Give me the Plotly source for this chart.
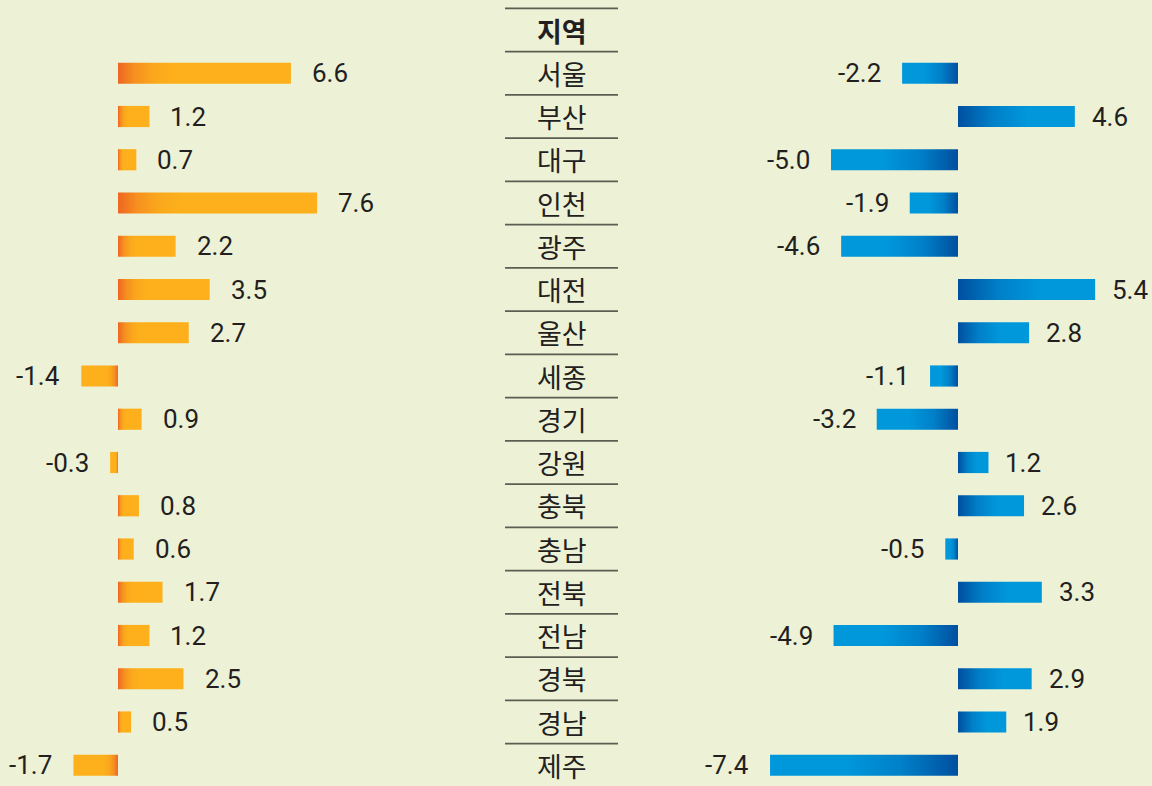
import plotly.graph_objects as go

regions = ["서울", "부산", "대구", "인천", "광주", "대전", "울산", "세종", "경기",
           "강원", "충북", "충남", "전북", "전남", "경북", "경남", "제주"]
header = "지역"
orange_values = [6.6, 1.2, 0.7, 7.6, 2.2, 3.5, 2.7, -1.4, 0.9, -0.3, 0.8, 0.6, 1.7, 1.2, 2.5, 0.5, -1.7]
blue_values = [-2.2, 4.6, -5.0, -1.9, -4.6, 5.4, 2.8, -1.1, -3.2, 1.2, 2.6, -0.5, 3.3, -4.9, 2.9, 1.9, -7.4]

BG = "#EDF1D6"
OR_SCALE = [[0, "#EE6623"], [0.3, "#F6901F"], [0.65, "#FBA81C"], [1, "#FDB01B"]]
BL_SCALE = [[0, "#004F9F"], [0.5, "#0080C8"], [1, "#0097DB"]]
OR_LIGHT, BL_LIGHT = "#FDB01B", "#0097DB"
TXT = "#231F20"
NUM_FONT = "Liberation Sans Narrow, Roboto, sans-serif"
KR_FONT = "Noto Sans CJK KR, sans-serif"
HALF = 0.245

rows = list(range(1, len(regions) + 1))

fig = go.Figure()


def add_bars(values, axis, light, scale, frac):
    rev = [[1 - p, c] for p, c in reversed(scale)]
    for i, v in zip(rows, values):
        if v > 0:
            grad = dict(type="horizontal", start=0, stop=v * frac, colorscale=scale)
        else:
            grad = dict(type="horizontal", start=v * frac, stop=0, colorscale=rev)
        fig.add_trace(go.Scatter(
            x=[0, v, v, 0, 0], y=[i - HALF, i - HALF, i + HALF, i + HALF, i - HALF],
            xaxis=axis, yaxis="y", mode="none", fill="toself", fillcolor=light,
            fillgradient=grad, hoverinfo="skip", showlegend=False))


add_bars(orange_values, "x", OR_LIGHT, OR_SCALE, 0.32)
add_bars(blue_values, "x2", BL_LIGHT, BL_SCALE, 0.6)

annotations = []
for values, xref, gap_pos in ((orange_values, "x", 19), (blue_values, "x2", 15)):
    for i, v in zip(rows, values):
        annotations.append(dict(
            x=v, y=i, xref=xref, yref="y", text=f"{v:.1f}", showarrow=False,
            xanchor="left" if v > 0 else "right", xshift=gap_pos if v > 0 else -19,
            font=dict(family=NUM_FONT, size=26, color=TXT)))

# center column labels
COL_L, COL_R = 505 / 1152, 618 / 1152
COL_C = (COL_L + COL_R) / 2
annotations.append(dict(x=COL_C, y=0, xref="paper", yref="y", text=f"<b>{header}</b>",
                        showarrow=False, font=dict(family=KR_FONT, size=27, color=TXT)))
for i, r in zip(rows, regions):
    annotations.append(dict(x=COL_C, y=i, xref="paper", yref="y", text=r, showarrow=False,
                            font=dict(family=KR_FONT, size=27, color=TXT)))

shapes = []
for i in range(0, len(regions) + 1):
    shapes.append(dict(type="line", xref="paper", yref="y", x0=COL_L, x1=COL_R,
                       y0=i - 0.5, y1=i - 0.5, line=dict(color="#5B5E50", width=1.6)))

fig.update_layout(
    width=1152, height=786, margin=dict(l=0, r=0, t=0, b=0),
    paper_bgcolor=BG, plot_bgcolor=BG,
    xaxis=dict(range=[-118 / 26.2, (1152 - 118) / 26.2], visible=False, domain=[0, 1], fixedrange=True),
    xaxis2=dict(range=[-958 / 25.4, (1152 - 958) / 25.4], visible=False, overlaying="x",
                domain=[0, 1], fixedrange=True),
    yaxis=dict(range=[(786 - 30) / 43.25, -30 / 43.25], visible=False, fixedrange=True),
    annotations=annotations, shapes=shapes, showlegend=False,
)

fig.write_html("out.html", config={"displayModeBar": False},
               post_script="document.body.style.margin='0';document.body.style.background='#EDF1D6';")
